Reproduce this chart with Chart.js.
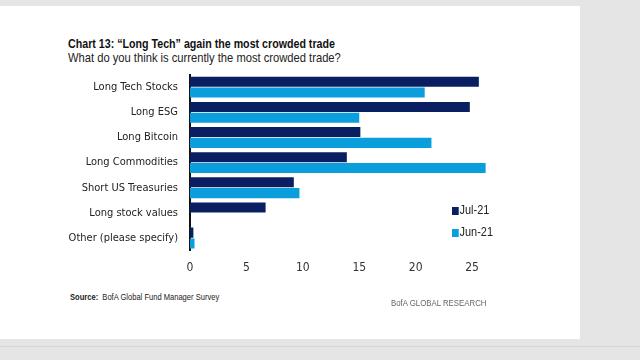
<!DOCTYPE html>
<html>
<head>
<meta charset="utf-8">
<script src="https://cdn.jsdelivr.net/npm/chart.js@4/dist/chart.umd.min.js"></script>
<style>
  html, body { margin: 0; padding: 0; }
  body { width: 640px; height: 360px; background: #e5e5e5; position: relative; overflow: hidden;
         font-family: 'Liberation Sans', Arial, sans-serif; }
  .panel { position: absolute; left: 0; top: 6px; width: 580px; height: 333px; background: #fff; }
  .band { position: absolute; left: 0; top: 346px; width: 640px; height: 1px; background: #d6d6d6; }
  .narrow { transform-origin: 0 0; white-space: nowrap; position: absolute; }
  .title { left: 68px; top: 36px; font-size: 13px; font-weight: bold; color: #111; transform: scaleX(0.82); }
  .sub { left: 68px; top: 50px; font-size: 13px; color: #222; transform: scaleX(0.86); }
  #chart { position: absolute; left: 0; top: 68px; }
  .legend { left: 452px; font-size: 13px; color: #222; line-height: 14px; transform: scaleX(0.84); }
  .legend i { display: inline-block; width: 8px; height: 8px; margin-right: 1px; vertical-align: -1px; }
  .source { left: 70px; top: 292px; font-size: 9px; color: #222; transform: scaleX(0.84); }
  .brand { left: 391px; top: 298px; font-size: 9px; color: #666; transform: scaleX(0.87); }
</style>
</head>
<body>
<div class="panel"></div>
<div class="band"></div>
<div class="narrow title">Chart 13: “Long Tech” again the most crowded trade</div>
<div class="narrow sub">What do you think is currently the most crowded trade?</div>
<canvas id="chart" width="500" height="217"></canvas>
<div class="narrow legend" style="top:203px"><i style="background:#0a1f62"></i>Jul-21</div>
<div class="narrow legend" style="top:225px"><i style="background:#0a9edc"></i>Jun-21</div>
<div class="narrow source"><b>Source:</b>&nbsp; BofA Global Fund Manager Survey</div>
<div class="narrow brand">BofA GLOBAL RESEARCH</div>
<script>
var categories = ['Long Tech Stocks', 'Long ESG', 'Long Bitcoin', 'Long Commodities',
                  'Short US Treasuries', 'Long stock values', 'Other (please specify)'];
var jul21 = [25.6, 24.8, 15.1, 13.9, 9.2, 6.7, 0.3];
var jun21 = [20.8, 15.0, 21.4, 26.2, 9.7, 0, 0.4];
var xTicks = [0, 5, 10, 15, 20, 25];

var font = "'DejaVu Sans Condensed', 'Liberation Sans', sans-serif";

var ctx = document.getElementById('chart').getContext('2d');
new Chart(ctx, {
    type: 'bar',
    data: {
        labels: categories,
        datasets: [
            { label: 'Jul-21', data: jul21, backgroundColor: '#0a1f62' },
            { label: 'Jun-21', data: jun21, backgroundColor: '#0a9edc' }
        ]
    },
    options: {
        indexAxis: 'y',
        responsive: false,
        animation: false,
        categoryPercentage: 0.86,
        barPercentage: 0.93,
        layout: { padding: { top: 0, right: 11, bottom: 0, left: 0 } },
        plugins: { legend: { display: false }, tooltip: { enabled: false } },
        scales: {
            x: {
                min: 0,
                max: 26.5,
                afterBuildTicks: function (axis) {
                    axis.ticks = xTicks.map(function (v) { return { value: v }; });
                },
                grid: { display: false, drawTicks: false },
                border: { display: false },
                ticks: { color: '#333', padding: 10, font: { family: font, size: 12 } }
            },
            y: {
                afterFit: function (axis) { axis.width = 190; },
                grid: { display: false, drawTicks: true, tickLength: 12, tickColor: 'rgba(0,0,0,0)' },
                border: { display: true, color: '#111', width: 2 },
                ticks: { color: '#222', padding: 0, font: { family: font, size: 11 } }
            }
        }
    }
});
</script>
</body>
</html>
